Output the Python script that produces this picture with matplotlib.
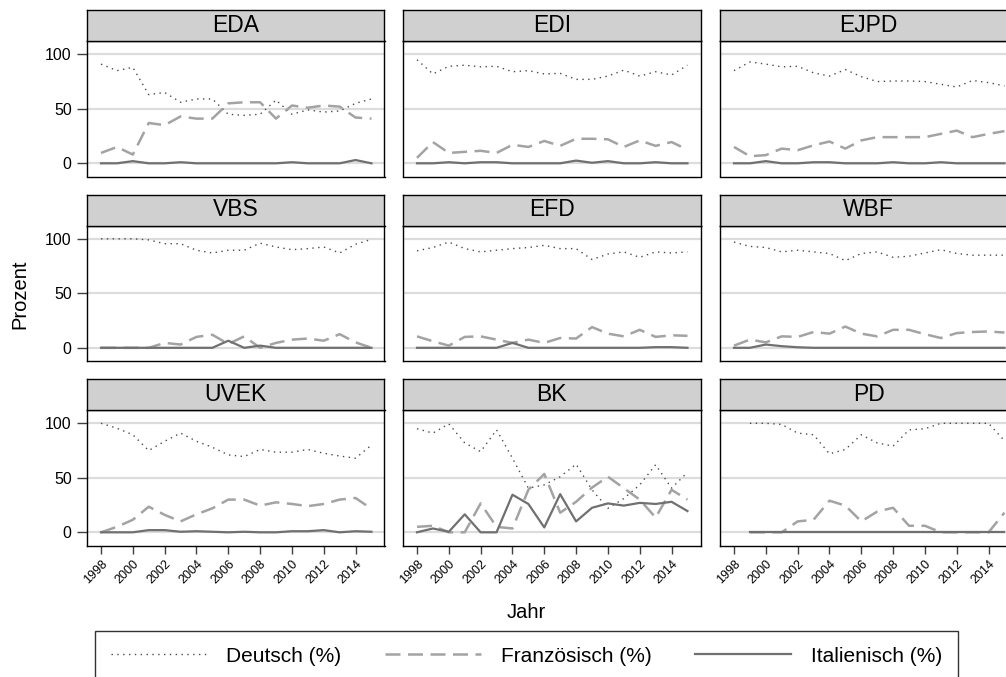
import numpy as np
import matplotlib
matplotlib.use('Agg')
import matplotlib.pyplot as plt

plt.rcParams['font.family'] = ['Liberation Sans', 'DejaVu Sans']

years = list(range(1998, 2016))
panel_names = ['EDA', 'EDI', 'EJPD', 'VBS', 'EFD', 'WBF', 'UVEK', 'BK', 'PD']
nan = np.nan

eda_de = [91, 85, 88, 63, 65, 56, 59, 59, 45, 44, 45, 58, 45, 49, 47, 48, 55, 59]
eda_fr = [9.5, 15, 8, 37, 35, 43, 41, 41, 55, 56, 56, 41, 53, 51, 53, 52, 42, 41]
eda_it = [0, 0, 2, 0, 0, 1, 0, 0, 0, 0, 0, 0, 1, 0, 0, 0, 3, 0]

edi_de = [95, 82, 89, 90, 88.5, 89, 84, 85, 82, 82.5, 77, 77, 80, 85.5, 80, 84, 81, 90]
edi_fr = [5, 19.5, 9.5, 10.5, 11.5, 9.5, 17, 15, 20.5, 16, 22.5, 22.5, 22, 15, 21, 16, 19.5, 12.5]
edi_it = [0, 0, 1, 0, 1, 1, 0, 0, 0, 0, 2.5, 0.5, 2, 0, 0, 1, 0, 0]

ejpd_de = [85, 93, 91, 88.5, 89, 83, 80, 86, 79.5, 75, 75.5, 75.5, 75, 72.5, 70, 76, 74, 71]
ejpd_fr = [15, 6.5, 7.5, 13.5, 12, 16.5, 20, 13.5, 21, 24, 24, 24, 24, 27, 30, 24, 27, 29.5]
ejpd_it = [0, 0, 2, 0, 0, 1, 1, 0, 0, 0, 1, 0, 0, 1, 0, 0, 0, 0]

vbs_de = [100, 100, 100, 99, 95.5, 95.5, 89.5, 87, 89.5, 89.5, 96, 92.5, 90, 91, 92.5, 87, 95, 99.5]
vbs_fr = [0, 0, 0, 0, 4.5, 3, 10, 12, 3.5, 10.5, 0, 4.5, 7.5, 8.5, 6.5, 12.5, 5, 0]
vbs_it = [0, 0, 0, 0, 0, 0, 0, 0, 6.5, 0, 2, 0, 0, 0, 0, 0, 0, 0]

efd_de = [89, 92, 97, 91, 88, 89.5, 91, 92, 94, 91, 91, 81, 86, 88, 83, 88, 87, 88]
efd_fr = [10.5, 6, 2, 10, 10.5, 7.5, 4.5, 7.5, 4.5, 9, 8.5, 19, 13, 10.5, 16.5, 10, 11.5, 11]
efd_it = [0, 0, 0, 0, 0, 0, 4.5, 0, 0, 0, 0, 0, 0, 0, 0, 0.6, 0.6, 0]

wbf_de = [97, 93, 92, 88, 89.5, 88, 86.5, 80, 86.5, 88, 83, 84, 87, 90, 86.5, 85, 85, 85]
wbf_fr = [2, 7.5, 5, 10.5, 10, 14.5, 13, 19.5, 13, 10.5, 16.5, 16.5, 12.5, 9, 13.5, 14.5, 15, 14]
wbf_it = [0, 0, 3, 1.5, 0.5, 0, 0, 0, 0, 0, 0, 0, 0, 0, 0, 0, 0, 0]

uvek_de = [100, 95.5, 89.5, 75, 83.5, 91, 83.5, 78, 71, 69.5, 76, 73.5, 73.5, 76, 72.5, 70, 68, 80]
uvek_fr = [0, 5, 11.5, 23.5, 16, 10, 16.5, 22, 30, 30, 24.5, 27.5, 26, 24, 26, 30, 31.5, 21.5]
uvek_it = [0, 0, 0, 2, 2, 0.5, 1, 0.5, 0, 0.5, 0, 0, 1, 1, 2, 0, 1, 0.5]

bk_de = [95, 91, 99.5, 82, 74, 94, 68, 40.5, 43.5, 51, 62.5, 39, 22, 31, 43.5, 62, 40.5, 55]
bk_fr = [5, 6, 0, 0, 26.5, 5, 3.5, 39, 53.5, 18, 28, 41, 51, 40.5, 30, 13.5, 39, 30]
bk_it = [0, 3.5, 0.5, 16.5, 0, 0, 34.5, 26, 4.5, 35, 10, 22.5, 26.5, 24.5, 27, 26, 28, 19.5]

pd_de = [nan, 100, 100, 99, 91, 89.5, 72, 76, 89.5, 82, 79, 94, 95, 100, 100, 100, 100, 84]
pd_fr = [nan, 0, 0, 0, 10, 11.5, 29, 24.5, 10, 19, 22.5, 6, 6, 0, 0, 0, 0, 18]
pd_it = [nan, 0, 0, 0, 0, 0, 0, 0, 0, 0, 0, 0, 0, 0, 0, 0, 0, 0]

series = {
    'EDA': (eda_de, eda_fr, eda_it), 'EDI': (edi_de, edi_fr, edi_it),
    'EJPD': (ejpd_de, ejpd_fr, ejpd_it), 'VBS': (vbs_de, vbs_fr, vbs_it),
    'EFD': (efd_de, efd_fr, efd_it), 'WBF': (wbf_de, wbf_fr, wbf_it),
    'UVEK': (uvek_de, uvek_fr, uvek_it), 'BK': (bk_de, bk_fr, bk_it),
    'PD': (pd_de, pd_fr, pd_it),
}
legend_labels = ['Deutsch (%)', 'Französisch (%)', 'Italienisch (%)']
y_ticks = [0, 50, 100]
x_ticks = list(range(1998, 2015, 2))

W, H = 1006, 677
fig = plt.figure(figsize=(W / 100, H / 100), dpi=100)

col_left = [87, 403, 720]
row_top = [41, 225.5, 410]
pw, ph = 297.5, 135.5
hh = 31

styles = [
    dict(color='#4a4a4a', lw=1.0, linestyle=(0, (1, 3.2))),
    dict(color='#a3a3a3', lw=1.8, linestyle=(0, (6, 3))),
    dict(color='#707070', lw=1.6, linestyle='-'),
]

handles = None
for i, name in enumerate(panel_names):
    r, c = divmod(i, 3)
    x0 = col_left[c] / W
    y0 = 1 - (row_top[r] + ph) / H
    ax = fig.add_axes([x0, y0, pw / W, ph / H])
    lines = []
    for vals, st in zip(series[name], styles):
        ln, = ax.plot(years, vals, **st)
        lines.append(ln)
    if handles is None:
        handles = lines
    ax.set_xlim(1997.12, 2015.82)
    ax.set_ylim(-12.1, 112.2)
    ax.set_yticks(y_ticks)
    ax.yaxis.grid(True, color='#dcdcdc', lw=1.6)
    ax.set_axisbelow(True)
    for sp in ax.spines.values():
        sp.set_color('black')
        sp.set_linewidth(1.0)
    if c == 0:
        ax.tick_params(axis='y', direction='out', length=7, width=1, color='#404040',
                       labelsize=11.5, pad=4)
    else:
        ax.tick_params(axis='y', left=False, labelleft=False)
    if r == 2:
        ax.set_xticks(x_ticks)
        ax.set_xticklabels([str(t) for t in x_ticks], rotation=45, ha='right',
                           va='top', rotation_mode='anchor', fontsize=9)
        ax.tick_params(axis='x', direction='out', length=6, width=1, color='#404040', pad=3)
    else:
        ax.tick_params(axis='x', bottom=False, labelbottom=False)

    hax = fig.add_axes([x0, 1 - row_top[r] / H, pw / W, hh / H])
    hax.set_facecolor('#d0d0d0')
    hax.set_xticks([])
    hax.set_yticks([])
    for sp in hax.spines.values():
        sp.set_color('black')
        sp.set_linewidth(1.0)
    hax.text(0.5, 0.5, name, ha='center', va='center', fontsize=16.5,
             transform=hax.transAxes)

fig.text(20 / W, 1 - 294 / H, 'Prozent', rotation=90, ha='center', va='center', fontsize=14.5)
fig.text(526 / W, 1 - 612 / H, 'Jahr', ha='center', va='center', fontsize=14.5)

leg = fig.legend(handles, legend_labels, loc='upper left',
                 bbox_to_anchor=(95 / W, 1 - 631 / H), ncol=3, frameon=True,
                 fancybox=False, edgecolor='black', fontsize=15, handlelength=4.6,
                 handletextpad=0.95, columnspacing=2.1, borderaxespad=0, borderpad=0.75)
leg.get_frame().set_linewidth(1.0)

fig.savefig('out.png', dpi=100)
